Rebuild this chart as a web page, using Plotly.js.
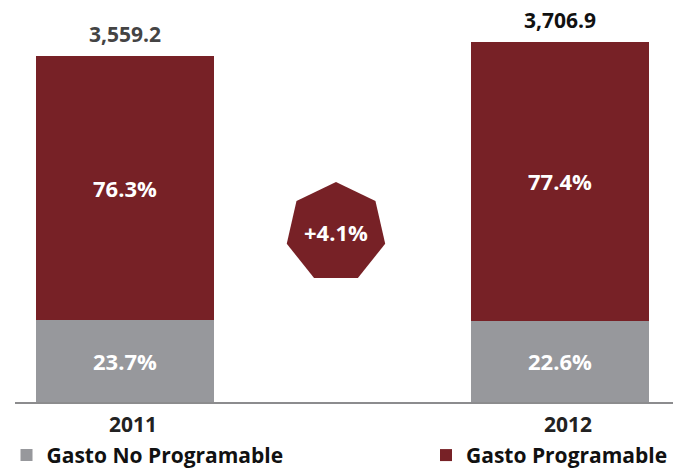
<!DOCTYPE html>
<html>
<head>
<meta charset="utf-8">
<script src="https://cdn.plot.ly/plotly-3.0.1.min.js"></script>
<style>html,body{margin:0;padding:0;background:#fff;}#chart{width:673px;height:470px;}</style>
</head>
<body>
<div id="chart"></div>
<script>
// ---- data ----
const years = ['2011', '2012'];
const totals = [3559.2, 3706.9];
const totalLabels = ['3,559.2', '3,706.9'];
const gastoNoProg = [843.5, 837.8];     // 23.7% and 22.6% of total
const gastoProg = [2715.7, 2869.1];     // 76.3% and 77.4% of total
const pctNoProg = ['23.7%', '22.6%'];
const pctProg = ['76.3%', '77.4%'];
const growthLabel = '+4.1%';

const RED = '#772126';
const GREY = '#97989c';
const FONT = 'Open Sans, Noto Sans, sans-serif';

const traces = [
  {
    type: 'bar', name: 'Gasto No Programable', x: years, y: gastoNoProg,
    marker: {color: GREY}, width: 0.41, legend: 'legend',
    text: pctNoProg, textposition: 'inside', insidetextanchor: 'middle',
    textangle: 0, constraintext: 'none',
    textfont: {family: FONT, size: 22, color: '#ffffff', weight: 'bold'},
    hoverinfo: 'none'
  },
  {
    type: 'bar', name: 'Gasto Programable', x: years, y: gastoProg,
    marker: {color: RED}, width: 0.41, legend: 'legend2',
    text: pctProg, textposition: 'inside', insidetextanchor: 'middle',
    textangle: 0, constraintext: 'none',
    textfont: {family: FONT, size: 22, color: '#ffffff', weight: 'bold'},
    hoverinfo: 'none'
  }
];

// heptagon (decorative badge) path in pixels relative to its anchor
const R = 50.5;
let path = '';
for (let k = 0; k < 7; k++) {
  const a = Math.PI / 2 - k * 2 * Math.PI / 7;
  path += (k === 0 ? 'M' : 'L') + (R * Math.cos(a)).toFixed(2) + ',' + (R * Math.sin(a)).toFixed(2) + ' ';
}
path += 'Z';

const totalColors = ['#444444', '#111111'];
const annotations = years.map((yr, i) => ({
  x: i, y: totals[i], xref: 'x', yref: 'y',
  text: totalLabels[i], showarrow: false, yanchor: 'middle', yshift: 22,
  font: {family: FONT, size: 21, color: totalColors[i], weight: 'bold'}
}));
annotations.push({
  x: 0.4878, y: 0.4324, xref: 'paper', yref: 'paper',
  text: growthLabel, showarrow: false,
  font: {family: FONT, size: 22, color: '#ffffff', weight: 'bold'}
});

const legendFont = {family: FONT, size: 21, color: '#111111', weight: 'bold'};
const layout = {
  width: 673, height: 470,
  margin: {l: 15, r: 0, t: 10, b: 68},
  paper_bgcolor: '#ffffff', plot_bgcolor: '#ffffff',
  barmode: 'stack',
  showlegend: true,
  legend: {
    orientation: 'h', x: -0.0129, xanchor: 'left',
    yref: 'container', y: 0.031, yanchor: 'middle',
    font: legendFont, bgcolor: 'rgba(0,0,0,0)'
  },
  legend2: {
    orientation: 'h', x: 0.6315, xanchor: 'left',
    yref: 'container', y: 0.031, yanchor: 'middle',
    font: legendFont, bgcolor: 'rgba(0,0,0,0)'
  },
  xaxis: {
    type: 'category', range: [-0.2529, 1.2598],
    showline: true, linecolor: '#8c8c8e', linewidth: 2,
    ticks: '', showgrid: false, zeroline: false,
    ticklabelshift: 8, ticklabelstandoff: 3,
    tickfont: {family: FONT, size: 21, color: '#222222', weight: 'bold'}
  },
  yaxis: {
    range: [0, 4032], visible: false, showgrid: false, zeroline: false
  },
  shapes: [{
    type: 'path', xref: 'paper', yref: 'paper',
    xsizemode: 'pixel', ysizemode: 'pixel',
    xanchor: 0.4878, yanchor: 0.4324,
    path: path, fillcolor: RED, line: {width: 0}, layer: 'below'
  }],
  annotations: annotations
};

Plotly.newPlot('chart', traces, layout, {displayModeBar: false, staticPlot: true});
</script>
</body>
</html>
